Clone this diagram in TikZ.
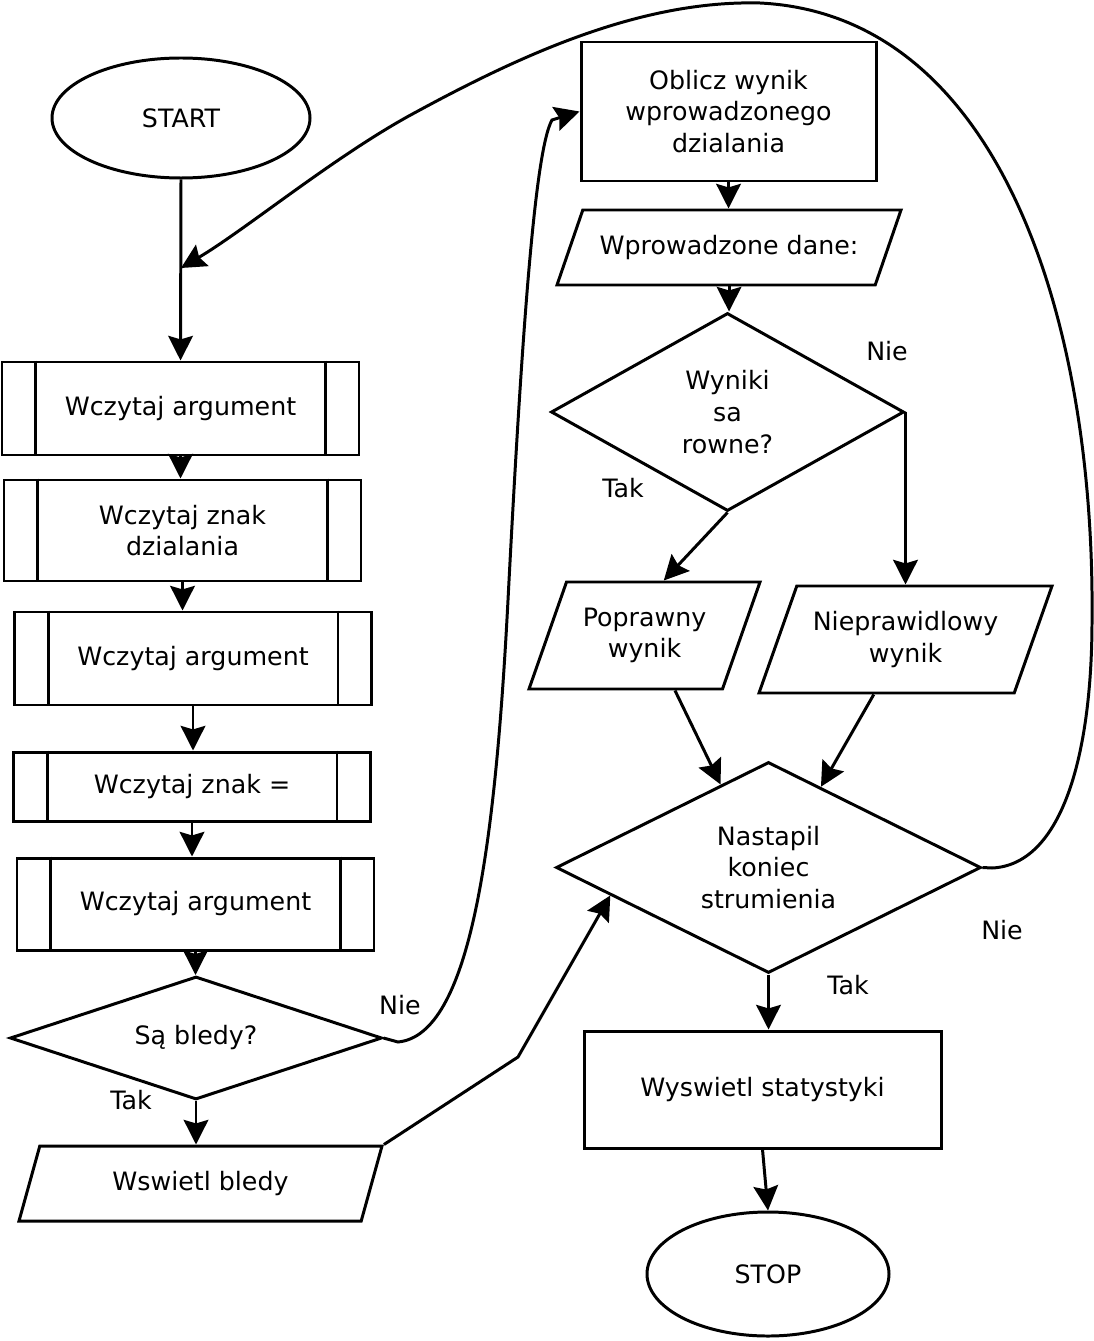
\documentclass[tikz,border=0pt]{standalone}
\usepackage{fontspec}
\setmainfont{DejaVu Sans}
\usetikzlibrary{arrows.meta,shapes.geometric}
\newcommand{\px}{0.02cm}

\begin{document}
\begin{tikzpicture}[
        x=\px, y=-\px,
        line width=1.7pt,
        every node/.style={
        font=\fontsize{14.4}{18}\selectfont,
        align=center,
        inner sep=0pt},
    terminal/.style={ellipse, draw},
    procbox/.style={rectangle, draw},
    subproc/.style={rectangle, draw, minimum width=357*\px},
    iobox/.style 2 args={
        trapezium, draw,
        trapezium stretches body,
        inner ysep=25*\px,
        trapezium left angle=#1,
        trapezium right angle=#2},
    decision/.style={diamond, draw},
    myarrow/.style={-{Stealth[length=14pt,width=14pt,inset=2pt]}}
    ]
    \useasboundingbox (0,0) rectangle (1094,1341);

    % left column
    \node[terminal, minimum width=258*\px, minimum height=120*\px] (start) at (181,118) {START};
    \node[subproc, minimum height=93*\px] (wa1) at (180.5,408.5) {Wczytaj argument};
    \node[subproc, minimum height=101*\px] (wz) at (182.5,530.5) {Wczytaj znak\\dzialania};
    \node[subproc, minimum height=93*\px] (wa2) at (193,658.5) {Wczytaj argument};
    \node[subproc, minimum height=69*\px] (wr) at (192,786.5) {Wczytaj znak =};
    \node[subproc, minimum height=92*\px] (wa3) at (195.5,904) {Wczytaj argument};
    \node[decision, aspect=3, minimum width=372*\px, minimum height=123*\px] (bledy) at (196,1038) {Są bledy?};
    \node[iobox={74.4}{105.6}, minimum width=363*\px, minimum height=75*\px] (wswietl) at (200.5,1183.5) {Wswietl bledy};

    % right column
    \node[procbox, minimum width=295*\px, minimum height=139*\px] (oblicz) at (728.5,111.5) {Oblicz wynik\\wprowadzonego\\dzialania};
    \node[iobox={70.9}{109.1}, minimum width=344*\px, minimum height=75*\px] (dane) at (729,247.5) {Wprowadzone dane:};
    \node[decision, aspect=1.78, minimum width=353*\px, minimum height=198*\px] (wyniki) at (727.5,412) {Wyniki\\sa\\rowne?};
    \node[iobox={70.4}{109.6}, minimum width=231*\px, minimum height=107*\px] (poprawny) at (644.5,635.5) {Poprawny\\wynik};
    \node[iobox={70.4}{109.6}, minimum width=293*\px, minimum height=107*\px] (niepraw) at (905.5,639.5) {Nieprawidlowy\\wynik};
    \node[decision, aspect=2, minimum width=425*\px, minimum height=211*\px] (koniec) at (768.5,867.5) {Nastapil\\koniec\\strumienia};
    \node[procbox, minimum width=357*\px, minimum height=117*\px] (stat) at (762.5,1089.5) {Wyswietl statystyki};
    \node[terminal, minimum width=242*\px, minimum height=124*\px] (stop) at (768,1274) {STOP};

    % side bars of the subprocess boxes
    \foreach \n in {wa1,wz,wa2,wr,wa3}
        \draw ([xshift=35*\px]\n.north west) -- ([xshift=35*\px]\n.south west)
              ([xshift=-35*\px]\n.north east) -- ([xshift=-35*\px]\n.south east);

    % labels
    \node (nie1) at (400,1005) {Nie};
    \node (tak1) at (131,1100) {Tak};
    \node (tak2) at (623,488) {Tak};
    \node (nie2) at (887,351) {Nie};
    \node (nie3) at (1002,930) {Nie};
    \node (tak3) at (848,985) {Tak};

    \coordinate (join) at (181,268);
    \coordinate (bend) at (518,1057);

    % straight flow
    \draw[myarrow] (start.south) -- (wa1.north);
    \foreach \a/\b in {wa1/wz, wz/wa2, wa2/wr, wr/wa3, wa3/bledy, bledy/wswietl,
        oblicz/dane, dane/wyniki, koniec/stat}
        \draw[myarrow] (\a.south) -- (\a.south |- \b.north);
    \draw[myarrow] (stat.south) -- (stop.north);
    \draw[myarrow] (wyniki.south) -- (poprawny.top side);
    \draw[myarrow] (wyniki.east) -- (wyniki.east |- niepraw.north);
    \draw[myarrow] (poprawny.299) -- (koniec.120);
    \draw[myarrow] (niepraw.240) -- (koniec.57);
    \draw[myarrow] (wswietl.top right corner) -- (bend) -- (koniec.190);

    % Nie -> back to the calculation
    \draw[myarrow] (bledy.east) -- (398,1042)
        .. controls (470,1035) and (495,850) .. (508,600)
        .. controls (522,330) and (535,150) .. (552,120) -- (oblicz.west);

    % Nie -> read the next expression
    \draw[myarrow] (koniec.east) -- (992,868)
        .. controls (1060,865) and (1092,760) .. (1092,620)
        .. controls (1095,320) and (1000,15) .. (760,3)
        .. controls (640,0) and (520,55) .. (407,117)
        .. controls (330,160) and (245,230) .. (join);
\end{tikzpicture}
\end{document}
